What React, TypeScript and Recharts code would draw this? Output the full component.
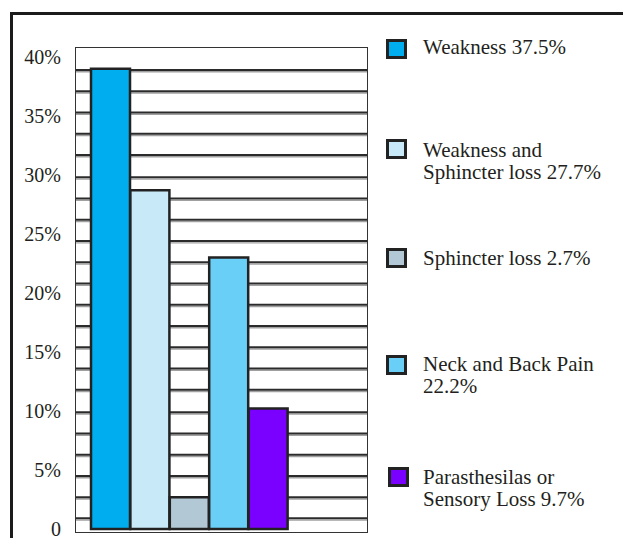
import React from "react";
import {
    BarChart,
    Bar,
    Cell,
    XAxis,
    YAxis,
    CartesianGrid,
} from "recharts";

// categories, in drawing order
const categories = [
    "Weakness",
    "Weakness and Sphincter loss",
    "Sphincter loss",
    "Neck and Back Pain",
    "Parasthesilas or Sensory Loss",
];

// bar heights as drawn (percent)
const barValues = [39.0, 28.7, 2.7, 23.0, 10.2];

// legend text, one entry per line
const legendLabels = [
    ["Weakness 37.5%"],
    ["Weakness and", "Sphincter loss 27.7%"],
    ["Sphincter loss 2.7%"],
    ["Neck and Back Pain", "22.2%"],
    ["Parasthesilas or", "Sensory Loss 9.7%"],
];

const barColors = ["#00AEEF", "#C8EAF8", "#B2C8D5", "#6ACFF6", "#7A00FF"];

const yTicks = [0, 5, 10, 15, 20, 25, 30, 35, 40];

// the hatch lines behind the bars (percent)
const gridValues = [
    0.9, 2.7, 4.5, 6.3, 8.1, 9.9, 11.8, 13.6, 15.4, 17.2, 19.0,
    20.8, 22.6, 24.4, 26.2, 28.0, 29.8, 31.7, 33.5, 35.3, 37.1, 38.9,
];

const yDomain: [number, number] = [-0.34, 40.76];

// legend layout (px)
const legendSquareTop = [39, 139, 248, 355, 467];
const legendSquareLeft = [386, 386, 386, 386, 388];
const legendTextTop = [36, 139, 247, 353, 466];

const INK = "#231f20";
const FONT = '"Liberation Serif", "Times New Roman", serif';

const chartData = categories.map((name, i) => ({ name, value: barValues[i] }));

// dark rule with a grey shadow under it
const GridLine = (props: any) => {
    const { x1, x2, y1 } = props;
    return (
        <g key={props.key}>
            <line x1={x1} x2={x2} y1={y1 + 1.8} y2={y1 + 1.8} stroke="#a0a0a0" strokeWidth={1.4} />
            <line x1={x1} x2={x2} y1={y1} y2={y1} stroke="#2b2b2b" strokeWidth={2} />
        </g>
    );
};

export default function App() {
    return (
        <div
            style={{
                position: "absolute",
                left: 0,
                top: 0,
                width: 623,
                height: 538,
                overflow: "hidden",
                background: "#fff",
                fontFamily: FONT,
                color: INK,
            }}
        >
            {/* Frame */}
            <div
                style={{
                    position: "absolute",
                    left: 10,
                    top: 12,
                    width: 640,
                    height: 560,
                    borderLeft: "3px solid #1b1b1b",
                    borderTop: "3px solid #1b1b1b",
                }}
            />

            <div style={{ position: "absolute", left: 0, top: 0 }}>
                <BarChart
                    width={623}
                    height={538}
                    data={chartData}
                    margin={{ top: 48, right: 255, bottom: 5, left: 15 }}
                    barCategoryGap={0}
                >
                    <XAxis dataKey="name" hide padding={{ left: 16, right: 80 }} />
                    <YAxis
                        yAxisId="main"
                        width={60}
                        domain={yDomain}
                        ticks={yTicks}
                        interval={0}
                        axisLine={false}
                        tickLine={false}
                        tickSize={0}
                        tickMargin={14}
                        tick={{ fill: INK, fontSize: 20, fontFamily: FONT }}
                        tickFormatter={(v: number) => (v === 0 ? "0" : `${v}%`)}
                    />

                    <CartesianGrid
                        yAxisId="main"
                        vertical={false}
                        horizontal={GridLine}
                        horizontalValues={gridValues}
                    />

                    <Bar
                        yAxisId="main"
                        dataKey="value"
                        stroke="#222"
                        strokeWidth={2.5}
                        isAnimationActive={false}
                    >
                        {chartData.map((d, i) => (
                            <Cell key={d.name} fill={barColors[i]} />
                        ))}
                    </Bar>
                </BarChart>
            </div>

            {/* Plot frame */}
            <div
                style={{
                    position: "absolute",
                    left: 75,
                    top: 47,
                    width: 293,
                    height: 486,
                    boxSizing: "border-box",
                    border: "1.5px solid #333",
                    pointerEvents: "none",
                }}
            />

            {/* Legend */}
            {legendLabels.map((lines, i) => (
                <React.Fragment key={categories[i]}>
                    <div
                        style={{
                            position: "absolute",
                            left: legendSquareLeft[i],
                            top: legendSquareTop[i],
                            width: 21,
                            height: 20,
                            boxSizing: "border-box",
                            border: "3px solid #222",
                            background: barColors[i],
                        }}
                    />
                    <div
                        style={{
                            position: "absolute",
                            left: 423,
                            top: legendTextTop[i],
                            fontSize: 21,
                            lineHeight: "22px",
                            whiteSpace: "nowrap",
                        }}
                    >
                        {lines.map((l) => (
                            <div key={l}>{l}</div>
                        ))}
                    </div>
                </React.Fragment>
            ))}
        </div>
    );
}
